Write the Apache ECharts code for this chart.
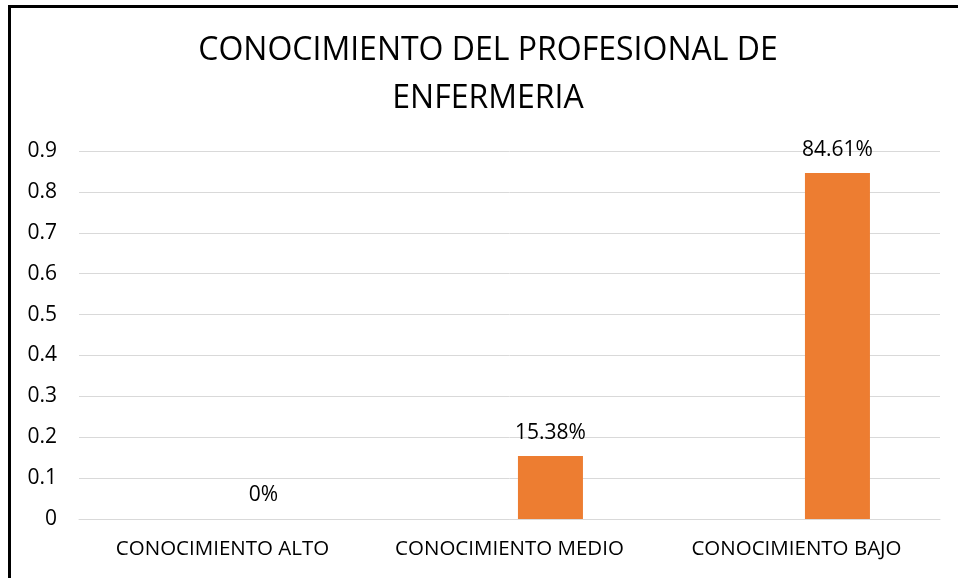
<!DOCTYPE html>
<html><head><meta charset="utf-8">
<script src="https://cdn.jsdelivr.net/npm/echarts@6/dist/echarts.min.js"></script>
<style>html,body{margin:0;padding:0;background:#fff}#c{width:958px;height:578px}</style>
</head><body><div id="c"></div>
<script>
const categories = ["CONOCIMIENTO ALTO", "CONOCIMIENTO MEDIO", "CONOCIMIENTO BAJO"];
const hiddenValues = [0, 0, 0];
const values = [0, 0.1538, 0.8461];
const valueLabels = ["0%", "15.38%", "84.61%"];
const titleText = "CONOCIMIENTO DEL PROFESIONAL DE\nENFERMERIA";
const FONT = "'Open Sans', sans-serif";

const chart = echarts.init(document.getElementById('c'), null, {renderer: 'canvas'});
chart.setOption({
  animation: false,
  title: {
    text: titleText, left: 488, textAlign: 'center', top: 27, padding: 0,
    textStyle: {fontFamily: FONT, fontSize: 32, fontWeight: 'normal', color: '#000', lineHeight: 48}
  },
  graphic: [{type: 'rect', shape: {x: 9.5, y: 6.5, width: 960, height: 600}, style: {fill: 'none', stroke: '#000', lineWidth: 3}, z: 100}],
  grid: {left: 79, right: 18, top: 151, bottom: 59},
  xAxis: {
    type: 'category', data: categories,
    axisLine: {lineStyle: {color: '#d9d9d9'}}, axisTick: {show: false},
    axisLabel: {fontFamily: FONT, fontSize: 20.5, color: '#000', margin: 20, interval: 0, hideOverlap: false}
  },
  yAxis: {
    type: 'value', min: 0, max: 0.9, interval: 0.1,
    axisLine: {show: false}, axisTick: {show: false},
    splitLine: {lineStyle: {color: '#d9d9d9', width: 1}},
    axisLabel: {fontFamily: FONT, fontSize: 21, color: '#000', margin: 22,
      formatter: v => String(Math.round(v * 10) / 10)}
  },
  series: [
    {type: 'bar', data: hiddenValues, barWidth: 65, barGap: '26%', itemStyle: {color: 'rgba(0,0,0,0)'}, silent: true},
    {type: 'bar', data: values, barWidth: 65, barGap: '26%', itemStyle: {color: '#ED7D31'},
      label: {show: true, position: 'top', distance: 13, fontFamily: FONT, fontSize: 21, color: '#000',
        formatter: p => valueLabels[p.dataIndex]}}
  ]
});
</script></body></html>
